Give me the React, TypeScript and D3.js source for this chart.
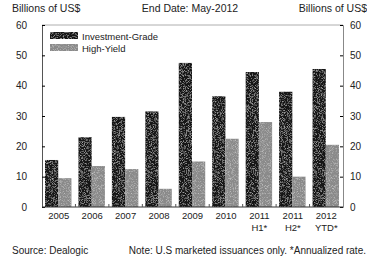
import React, { useEffect, useRef } from 'react'
import * as d3 from 'd3'

const years = ['2005', '2006', '2007', '2008', '2009', '2010', '2011\nH1*', '2011\nH2*', '2012\nYTD*']
const investmentGrade = [15.5, 23, 29.7, 31.5, 47.5, 36.5, 44.5, 38, 45.5]
const highYield = [9.5, 13.5, 12.5, 6, 15, 22.5, 28, 10, 20.5]
const yTicks = [0, 10, 20, 30, 40, 50, 60]

const W = 367
const H = 260

export default function App() {
  const ref = useRef<SVGSVGElement>(null)

  useEffect(() => {
    const svg = d3.select(ref.current)
    svg.selectAll('*').remove()

    const left = 42, right = 343, top = 25, bottom = 207
    const font = 'Liberation Sans, Arial, sans-serif'

    const x = d3.scaleBand().domain(years).range([left, right]).paddingInner(0).paddingOuter(0)
    const y = d3.scaleLinear().domain([0, 60]).range([bottom, top])
    const inner = d3.scaleBand().domain(['ig', 'hy']).range([3, x.bandwidth() - 4])

    // faint speckle texture
    const defs = svg.append('defs')
    const filt = defs.append('filter').attr('id', 'noise')
    filt.append('feTurbulence').attr('type', 'fractalNoise').attr('baseFrequency', 1.4).attr('numOctaves', 1).attr('result', 'n')
    filt.append('feColorMatrix').attr('in', 'n').attr('type', 'matrix')
      .attr('values', '0 0 0 0 1  0 0 0 0 1  0 0 0 0 1  0 0 0 -1.2 0.62').attr('result', 'w')
    filt.append('feComposite').attr('in', 'w').attr('in2', 'SourceGraphic').attr('operator', 'in').attr('result', 'm')
    filt.append('feMerge').call(m => { m.append('feMergeNode').attr('in', 'SourceGraphic'); m.append('feMergeNode').attr('in', 'm') })

    const g = svg.append('g')

    // frame
    g.append('line').attr('x1', left).attr('x2', right).attr('y1', top).attr('y2', top)
      .attr('stroke', '#999').attr('stroke-width', 0.8)

    const groups = g.selectAll('g.grp').data(years).enter().append('g')
      .attr('transform', d => `translate(${x(d)},0)`)

    groups.append('rect')
      .attr('x', inner('ig')!)
      .attr('width', inner.bandwidth())
      .attr('y', (d, i) => y(investmentGrade[i]))
      .attr('height', (d, i) => bottom - y(investmentGrade[i]))
      .attr('fill', '#141414')
      .attr('filter', 'url(#noise)')

    groups.append('rect')
      .attr('x', inner('hy')!)
      .attr('width', inner.bandwidth())
      .attr('y', (d, i) => y(highYield[i]))
      .attr('height', (d, i) => bottom - y(highYield[i]))
      .attr('fill', '#8a8a8a')
      .attr('filter', 'url(#noise)')

    // axes
    const yl = g.append('g').attr('transform', `translate(${left},0)`)
      .call(d3.axisRight(y).tickValues(yTicks).tickSize(3).tickFormat(() => ''))
    yl.select('.domain').attr('stroke', '#555')
    const yr = g.append('g').attr('transform', `translate(${right},0)`)
      .call(d3.axisLeft(y).tickValues(yTicks).tickSize(3).tickFormat(() => ''))
    yr.select('.domain').attr('stroke', '#888')

    g.append('line').attr('x1', left).attr('x2', right).attr('y1', bottom).attr('y2', bottom)
      .attr('stroke', '#333').attr('stroke-width', 1)
    g.selectAll('line.xt').data(years.slice(1)).enter().append('line')
      .attr('x1', d => x(d)!).attr('x2', d => x(d)!)
      .attr('y1', bottom).attr('y2', bottom - 3).attr('stroke', '#555')

    const txt = (sel: any) => sel.attr('font-family', font).attr('font-size', 9.5).attr('fill', '#222')

    g.selectAll('text.yl').data(yTicks).enter().append('text').call(txt)
      .attr('font-size', 10).attr('x', 27).attr('y', d => y(d) + 3.5).attr('text-anchor', 'end').text(d => d)
    g.selectAll('text.yr').data(yTicks).enter().append('text').call(txt)
      .attr('font-size', 10).attr('x', 350).attr('y', d => y(d) + 3.5).attr('text-anchor', 'start').text(d => d)

    const xl = g.selectAll('text.xl').data(years).enter().append('text').call(txt)
      .attr('text-anchor', 'middle')
      .attr('transform', d => `translate(${x(d)! + x.bandwidth() / 2},219)`)
    xl.selectAll('tspan').data(d => d.split('\n')).enter().append('tspan')
      .attr('x', 0).attr('dy', (d, i) => (i === 0 ? 0 : 11.5)).text(d => d)

    // header
    txt(g.append('text')).attr('font-size', 10.5).attr('x', 12).attr('y', 12).text('Billions of US$')
    txt(g.append('text')).attr('font-size', 10.5).attr('x', 190).attr('y', 12).attr('text-anchor', 'middle').text('End Date: May-2012')
    txt(g.append('text')).attr('font-size', 10.5).attr('x', 367).attr('y', 12).attr('text-anchor', 'end').text('Billions of US$')

    // legend
    const legend = [['Investment-Grade', '#141414'], ['High-Yield', '#8a8a8a']]
    legend.forEach(([label, col], i) => {
      g.append('rect').attr('x', 50).attr('y', 32 + i * 12).attr('width', 28).attr('height', 7)
        .attr('fill', col).attr('filter', 'url(#noise)')
      txt(g.append('text')).attr('x', 82).attr('y', 39.5 + i * 12).text(label)
    })

    // footer
    txt(g.append('text')).attr('x', 12).attr('y', 254).attr('font-size', 10).text('Source: Dealogic')
    txt(g.append('text')).attr('x', 366).attr('y', 254).attr('font-size', 10).attr('text-anchor', 'end')
      .text('Note: U.S marketed issuances only. *Annualized rate.')
  }, [])

  return (
    <svg ref={ref} width={W} height={H}
      style={{ position: 'absolute', left: 0, top: 0, background: '#fff' }} />
  )
}
